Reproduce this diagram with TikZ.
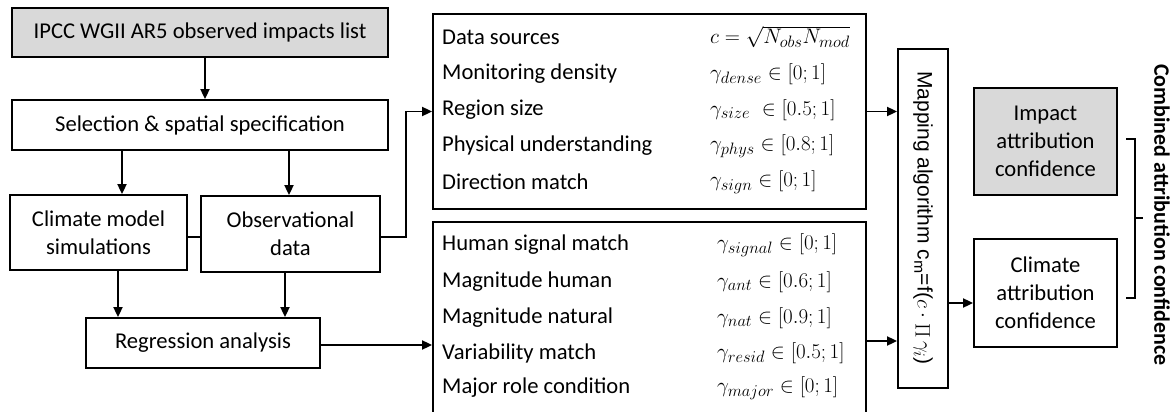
\RequirePackage{fix-cm}
\documentclass[tikz,border=0pt]{standalone}
\usepackage{fontspec}
\setmainfont{Carlito}
\newfontfamily\arialf{Liberation Sans}
\usetikzlibrary{arrows.meta}
\definecolor{boxgray}{HTML}{D9D9D9}
\DeclareMathSizes{21}{21}{16.5}{12.5}
\begin{document}
\begin{tikzpicture}[x=1pt,y=-1pt,
  box/.style={draw, line width=1.8pt, inner sep=2pt, align=center, font=\fontsize{22.6}{28}\selectfont},
  arr/.style={line width=1.8pt, -{Triangle[length=10pt,width=9pt]}},
  ln/.style={line width=1.8pt},
  lab/.style={anchor=west, inner sep=0pt, font=\fontsize{22.6}{28}\selectfont},
  mth/.style={anchor=west, inner sep=0pt, font=\fontsize{21}{25}\selectfont}]
\useasboundingbox (0,0) rectangle (1176,412);
\clip (0,0) rectangle (1176,412);

% left column
\node[box, fill=boxgray, minimum width=376pt, minimum height=49pt] (ipcc) at (200,32.5) {IPCC WGII AR5 observed impacts list};
\node[box, minimum width=376pt, minimum height=50pt] (sel) at (200,125) {Selection \& spatial specification};
\node[box, minimum width=177pt, minimum height=75pt] (clim) at (98.5,232.5) {Climate model\\simulations};
\node[box, minimum width=179pt, minimum height=76pt] (obs) at (290.5,234) {Observational\\data};
\node[box, minimum width=234pt, minimum height=50pt] (reg) at (203,343) {Regression analysis};

% parameter boxes
\node[box, minimum width=433pt, minimum height=195pt] (p1) at (649.5,111.5) {};
\node[box, minimum width=433pt, minimum height=208pt] (p2) at (649.5,326) {};

\node[lab] (l1) at (442,37) {Data sources};
\node[lab] (l2) at (442,74) {Monitoring density};
\node[lab] (l3) at (442,110) {Region size};
\node[lab] (l4) at (442,146) {Physical understanding};
\node[lab] (l5) at (442,182) {Direction match};
\node[mth] (m1) at (710,37) {$c=\sqrt{N_{obs}N_{mod}}$};
\node[mth] (m2) at (710,74) {$\gamma_{dense}\in[0;1]$};
\node[mth] (m3) at (710,110) {$\gamma_{size}\;\in[0.5;1]$};
\node[mth] (m4) at (710,146) {$\gamma_{phys}\in[0.8;1]$};
\node[mth] (m5) at (710,182) {$\gamma_{sign}\in[0;1]$};

\node[lab] (l6) at (442,245) {Human signal match};
\node[lab] (l7) at (442,282) {Magnitude human};
\node[lab] (l8) at (442,318) {Magnitude natural};
\node[lab] (l9) at (442,353) {Variability match};
\node[lab] (l10) at (442,388) {Major role condition};
\node[mth] (m6) at (717,245) {$\gamma_{signal}\in[0;1]$};
\node[mth] (m7) at (717,282) {$\gamma_{ant}\in[0.6;1]$};
\node[mth] (m8) at (717,318) {$\gamma_{nat}\in[0.9;1]$};
\node[mth] (m9) at (717,353) {$\gamma_{resid}\in[0.5;1]$};
\node[mth] (m10) at (717,388) {$\gamma_{major}\in[0;1]$};

% mapping
\node[box, minimum width=50pt, minimum height=339pt] (map) at (923,218.5) {};
\node[rotate=-90, inner sep=0pt, font=\arialf\fontsize{21}{24}\selectfont] (maptxt) at (923,218) {Mapping algorithm c$_{\mathrm{m}}$=f($c\cdot\mathop{\Pi}\gamma_i$)};

% results
\node[box, fill=boxgray, minimum width=143pt, minimum height=107pt] (imp) at (1045.5,141.5) {Impact\\attribution\\confidence};
\node[box, minimum width=143pt, minimum height=108pt] (cli) at (1045.5,293) {Climate\\attribution\\confidence};

\node[rotate=-90, inner sep=0pt, font=\bfseries\fontsize{22}{26}\selectfont] (comb) at (1162,215) {Combined attribution confidence};

% helper coordinates
\coordinate (xa) at (205,0);
\coordinate (xb) at (122,0);
\coordinate (xc) at (289,0);
\coordinate (xd) at (118,0);
\coordinate (xe) at (285,0);
\coordinate (xj) at (406,0);
\coordinate (ya) at (0,237);
\coordinate (yb) at (0,341);
\coordinate (yc) at (0,303);
\coordinate (yd) at (0,345);

% connectors
\draw[arr] (ipcc.south -| xa) -- (sel.north -| xa);
\draw[arr] (sel.south -| xb) -- (clim.north -| xb);
\draw[arr] (sel.south -| xc) -- (obs.north -| xc);
\draw[ln] (clim.east |- ya) -- (obs.west |- ya);
\draw[arr] (obs.east |- ya) -- (xj |- ya) -- (xj |- p1.west) -- (p1.west);
\draw[arr] (clim.south -| xd) -- (reg.north -| xd);
\draw[arr] (obs.south -| xe) -- (reg.north -| xe);
\draw[arr] (reg.east |- yd) -- (p2.west |- yd);
\draw[arr] (p1.east) -- (map.west |- p1.east);
\draw[arr] (p2.east |- yb) -- (map.west |- yb);
\draw[arr] (map.east |- yc) -- (cli.west |- yc);

% bracket
\draw[line width=1.4pt] (1126,139) -- (1135,139) -- (1135,298) -- (1126,298);
\draw[line width=1.4pt] (1135,218) -- (1143,218);
\end{tikzpicture}
\end{document}
